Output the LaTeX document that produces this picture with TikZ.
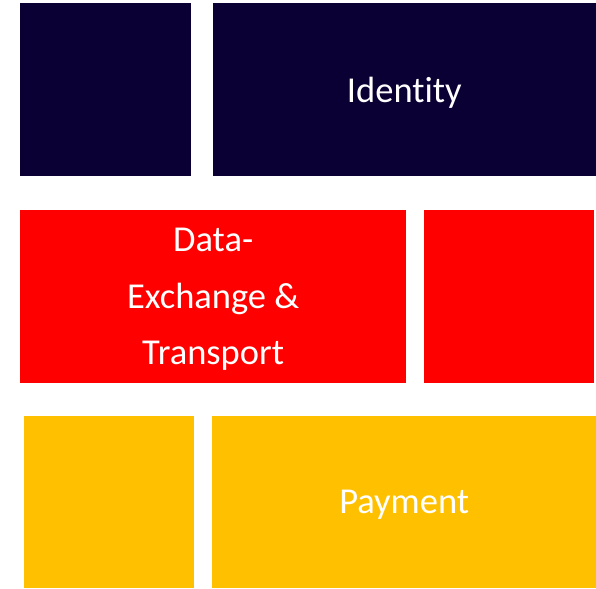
\documentclass[tikz,border=0pt]{standalone}
\usepackage{fontspec}
\setmainfont[Ligatures=NoCommon]{Carlito}
\usepackage{xcolor}
\definecolor{navyblk}{HTML}{0B0033}
\definecolor{redblk}{HTML}{FF0000}
\definecolor{amberblk}{HTML}{FFC000}

\begin{document}
\begin{tikzpicture}[
  x=1pt, y=1pt,
  lbl/.style={text=white, align=center, inner sep=0pt, yshift=-3pt,
    font=\fontsize{36.5}{56.5}\selectfont}
]
\useasboundingbox (0,0) rectangle (596,588);

% blocks: (x1, y1, x2, y2, color, name, label)
\def\blk#1#2#3#4#5#6#7{%
  \fill[#5] (#1,#2) rectangle (#3,#4);
  \node[lbl] (#6) at ({(#1+#3)/2}, {(#2+#4)/2}) {#7};
}
% top row
\blk{20}{412.3}{190.7}{584.5}{navyblk}{navyleft}{}
\blk{212.7}{412.3}{596}{584.5}{navyblk}{identity}{Identity}
% middle row
\blk{20}{205.3}{406.3}{378}{redblk}{exchange}{Data-\\Exchange \&\\Transport}
\blk{423.7}{205.3}{594}{378}{redblk}{redright}{}
% bottom row
\blk{24}{0}{194.3}{171.7}{amberblk}{amberleft}{}
\blk{212.3}{0}{596}{171.7}{amberblk}{payment}{Payment}
\end{tikzpicture}
\end{document}
